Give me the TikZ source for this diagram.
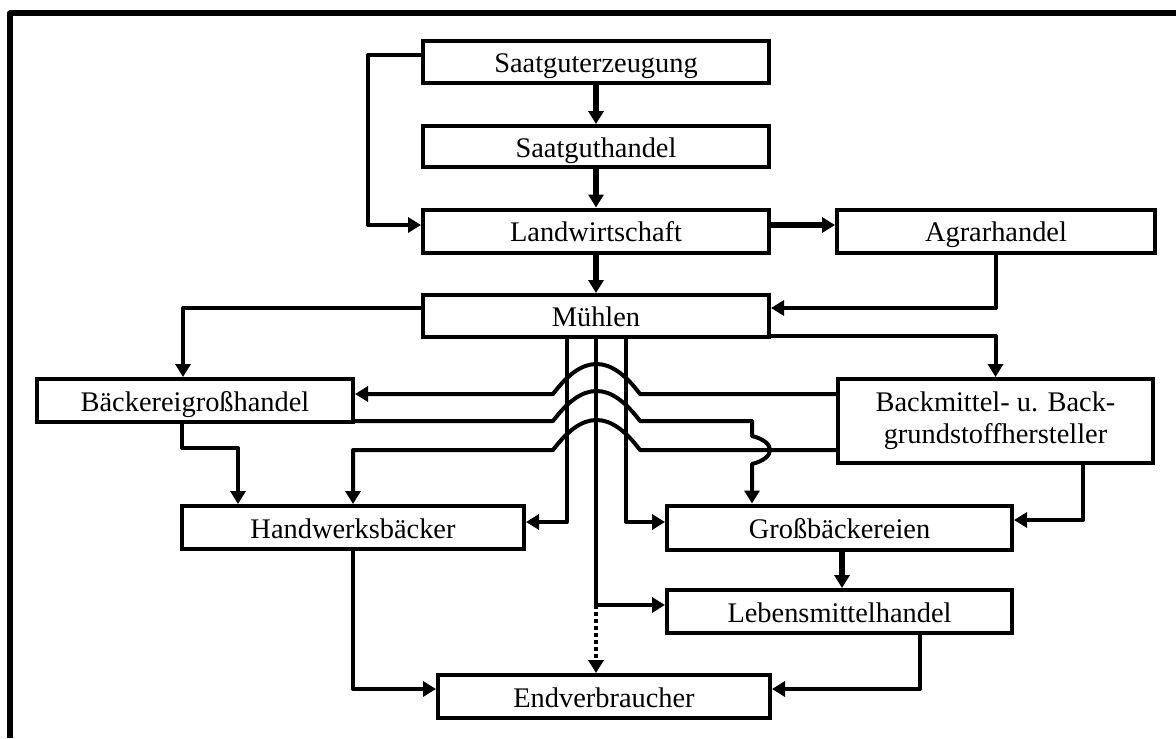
\documentclass[tikz,border=0pt]{standalone}
\usepackage{fontspec}
\setmainfont{Liberation Serif}
\usetikzlibrary{arrows.meta, positioning}

\begin{document}
\begin{tikzpicture}[
		x=0.5pt, y=-0.5pt,
		box/.style={draw, line width=2pt, inner sep=0pt, minimum height=21.5pt, font=\fontsize{14.2}{16}\selectfont},
		box_line/.style={box, text height=13pt, text depth=2.3pt},
		conn/.style={-{Triangle[length=6.5pt, width=7.5pt]}, line width=2pt, line join=round},
		connthick/.style={conn, line width=3pt},
		plain_line/.style={line width=2pt, line join=round},
		frame_line/.style={line width=3pt, line join=round}
		]
		\useasboundingbox (0,0) rectangle (1176,738);
		\draw[frame_line] (10,738) -- (10,13.5) -- (1176,13.5);
		
		% Chain at the top
		\node[box_line, minimum width=173pt, minimum height=21pt] (sz) at (596,62) {Saatguterzeugung};
		\node[box_line, minimum width=173pt, minimum height=20.5pt] (sh) at (596,146.5) {Saatguthandel};
		\node[box_line, minimum width=173pt] (lw) at (596,231) {Landwirtschaft};
		\node[box_line, minimum width=159pt] (ah) at (996,231) {Agrarhandel};
		\node[box_line, minimum width=173pt, minimum height=21pt] (mu) at (596,316) {Mühlen};
		
		% Middle row
		\node[box_line, minimum width=158pt] (bg) at (195,400.5) {Bäckereigroßhandel};
		\node[box, minimum width=157.5pt, minimum height=42pt, align=center] (bm) at (995.5,421) {\raisebox{-2pt}{Backmittel- u. Back-}\\\raisebox{-2pt}{grundstoffhersteller}};
		
		% Bakeries and trade
		\node[box_line, minimum width=171pt] (hw) at (353,527.5) {Handwerksbäcker};
		\node[box_line, minimum width=172.5pt, minimum height=22pt] (gb) at (839.5,527.5) {Großbäckereien};
		\node[box_line, minimum width=172.5pt] (lm) at (839.5,611.5) {Lebensmittelhandel};
		\node[box_line, minimum width=166pt] (ev) at (604,696.5) {Endverbraucher};
		
		\coordinate (split) at (596,605);
		
		% Connectors from the top
		\draw[connthick] (sz) -- (sh);
		\draw[connthick] (sh) -- (lw);
		\draw[conn] (sz.west |- 0,55) -- (368,55) |- (lw.west |- 0,225);
		\draw[connthick] (lw.east |- 0,225) -- (ah.west |- 0,225);
		\draw[connthick] (lw) -- (mu);
		\draw[conn] (ah.south) |- (mu.east |- 0,308);
		\draw[conn] (mu.west |- 0,308) -| (183,0 |- bg.north);
		\draw[conn] (mu.east |- 0,336) -| (bm.north);
		
		% Lines with hops over the Mühlen lines
		\draw[conn] (bm.west |- 0,394) -- (640,394) .. controls (610,354) and (583,354) .. (553,394) -- (bg.east |- 0,394);
		\draw[conn] (bg.east |- 0,421) -- (553,421) .. controls (583,381) and (610,381) .. (640,421) -- (752,421) -- (752,436) .. controls (776,442) and (776,458) .. (752,464) -- (752,0 |- gb.north);
		\draw[conn] (bm.west |- 0,450) -- (640,450) .. controls (610,410) and (583,410) .. (553,450) -| (hw.north);
		\draw[conn] (182,0 |- bg.south) -- (182,448) -| (238,0 |- hw.north);
		
		% Lines out of Mühlen
		\draw[conn] (567,0 |- mu.south) |- (hw.east |- 0,522);
		\draw[conn] (mu.south) |- (lm.west |- split);
		\draw[plain_line, dash pattern=on 2pt off 1.5pt, -{Triangle[length=6.5pt, width=7.5pt]}] (split) -- (split |- ev.north);
		\draw[conn] (626,0 |- mu.south) |- (gb.west |- 0,522);
		\draw[conn] (1083,0 |- bm.south) |- (gb.east |- 0,520);
		
		% To the consumer
		\draw[connthick] (gb.south -| 842,0) -- (842,0 |- lm.north);
		\draw[conn] (920,0 |- lm.south) |- (ev.east |- 0,689);
		\draw[conn] (hw.south) |- (ev.west |- 0,689);
		
	\end{tikzpicture}
\end{document}
